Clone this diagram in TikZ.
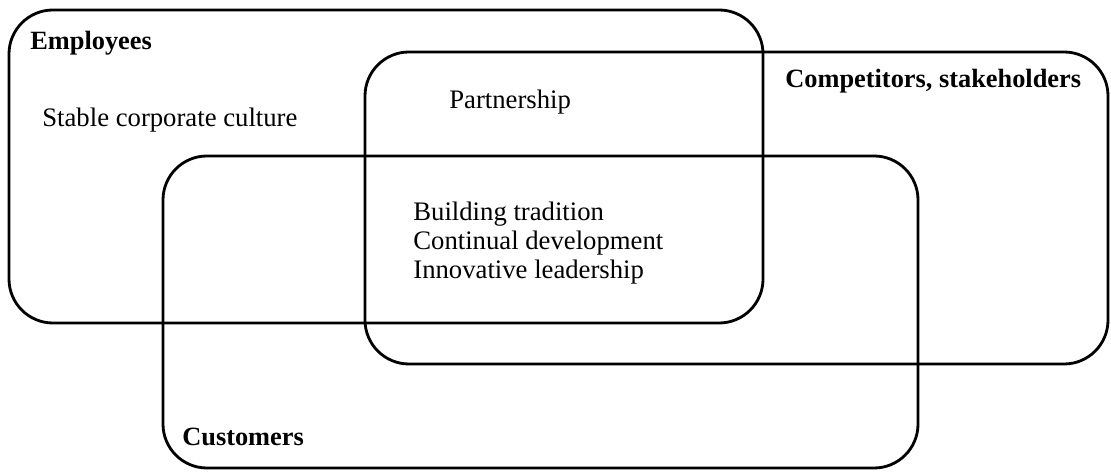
\documentclass[tikz,border=0pt]{standalone}
\usepackage{fontspec}
\setmainfont{Liberation Serif}
\usepackage{tikz}
\usetikzlibrary{positioning}

\tikzset{group/.style={draw, line width=1.6pt, rounded corners=25pt},
         label/.style={anchor=base west, inner sep=0pt, font=\fontsize{15.2}{16}\selectfont},
         title/.style={label, font=\fontsize{15}{16}\selectfont\bfseries}}

\begin{document}
\begin{tikzpicture}[x=0.02cm, y=-0.02cm]
  \useasboundingbox (0,0) rectangle (1111,472);
  % the three groups
  \draw[group] (9,10) rectangle (763,323);
  \draw[group] (365,52) rectangle (1108,364);
  \draw[group] (163,156) rectangle (918,468);
  % texts
  \node[title] (employees) at (30,50) {Employees};
  \node[label] (culture) at (42,127) {Stable corporate culture};
  \node[label] (partner) at (449,109) {Partnership};
  \node[title] (competitors) at (785,88) {Competitors, stakeholders};
  \node[label, align=left, font=\fontsize{15.2}{16.5}\selectfont, anchor=north west] (values) at (413,202) {Building tradition\\Continual development\\Innovative leadership};
  \node[title] (customers) at (182,445) {Customers};
\end{tikzpicture}
\end{document}
